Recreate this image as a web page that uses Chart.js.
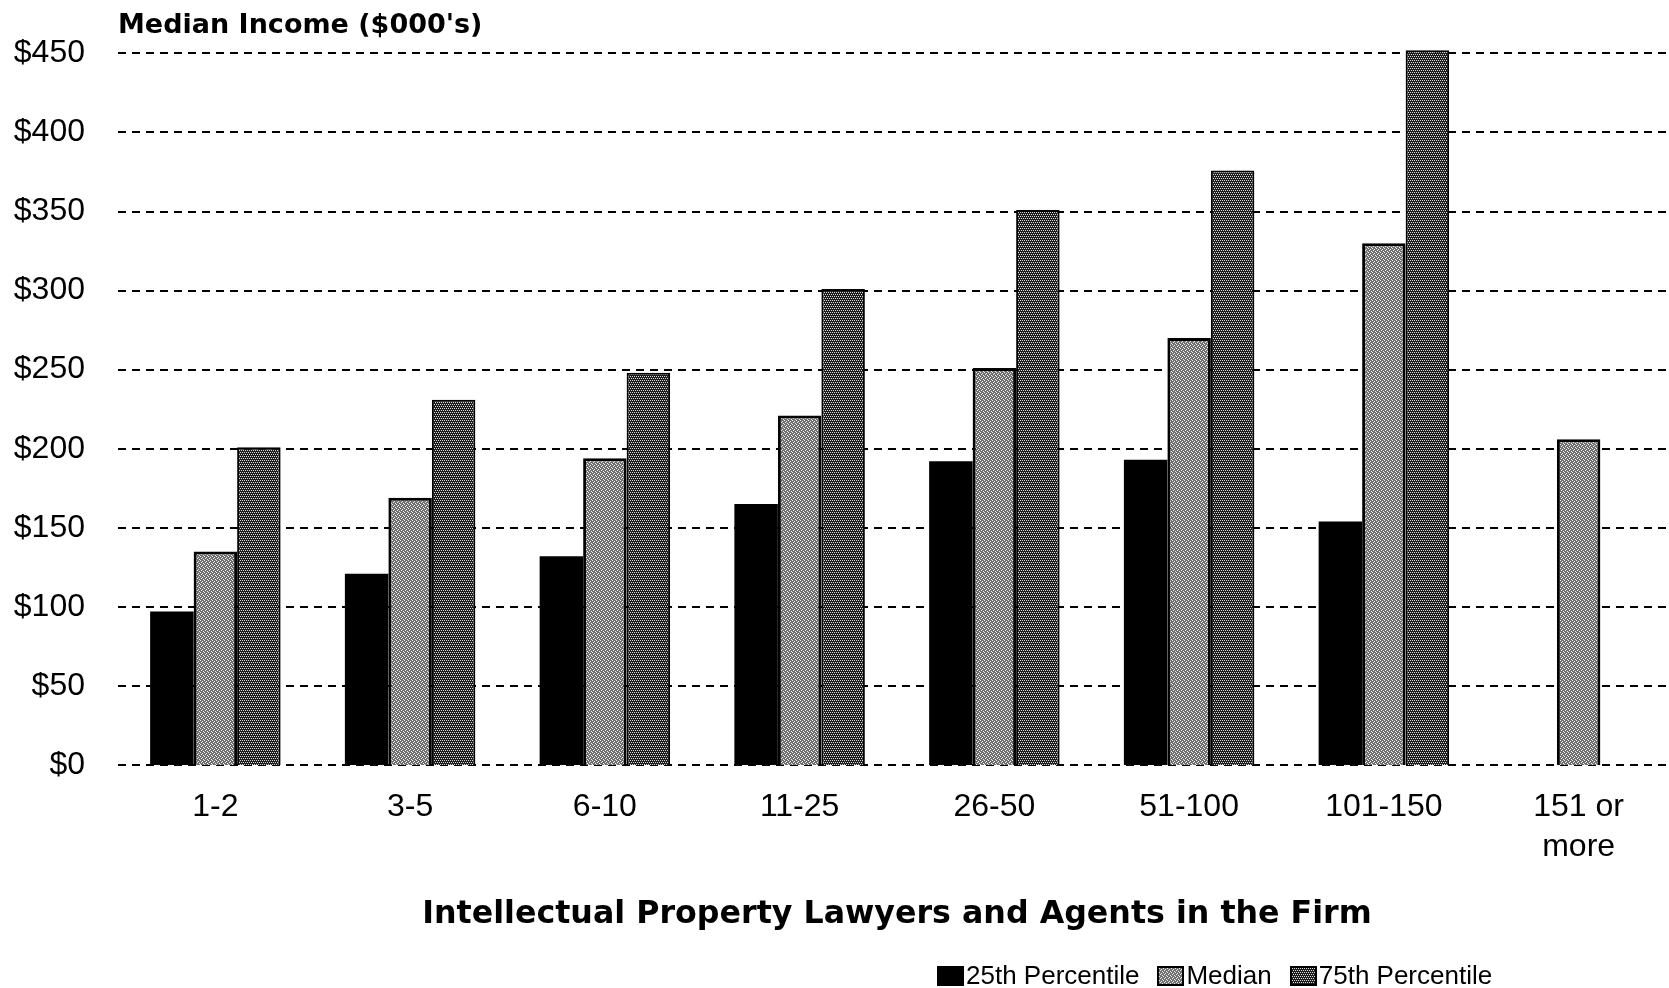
<!DOCTYPE html>
<html>
<head>
<meta charset="utf-8">
<script src="https://cdn.jsdelivr.net/npm/chart.js@4/dist/chart.umd.min.js"></script>
<style>
  html, body { margin: 0; padding: 0; background: #fff; overflow: hidden; }
  #wrap { position: relative; width: 1680px; height: 988px; }
  #legend {
    position: absolute; left: 937px; top: 960px;
    display: flex; align-items: center;
    font-family: "Liberation Sans", Arial, sans-serif; font-size: 26px; color: #000;
  }
  #legend .item { display: flex; align-items: center; margin-right: 18px; }
  #legend .sw { width: 27px; height: 20px; margin-right: 2px; box-sizing: border-box; }
</style>
</head>
<body>
<div id="wrap">
  <canvas id="chart" width="1680" height="988"></canvas>
  <div id="legend"></div>
</div>
<script>
// ---- datos ----
const categories = ["1-2", "3-5", "6-10", "11-25", "26-50", "51-100", "101-150", ["151 or", "more"]];
const seriesNames = ["25th Percentile", "Median", "75th Percentile"];
const p25Values = [97, 121, 132, 165, 192, 193, 154, null];
const medianValues = [135, 169, 194, 221, 251, 270, 330, 206];
const p75Values = [201, 231, 248, 301, 351, 376, 452, null];
const yMin = 0, yMax = 450, yStep = 50;

// ---- texturas (tramas) ----
function makeTile(bg, fg, pts) {
    const c = document.createElement("canvas");
    c.width = 4; c.height = 4;
    const g = c.getContext("2d");
    g.fillStyle = bg; g.fillRect(0, 0, 4, 4);
    g.fillStyle = fg;
    pts.forEach(([x, y]) => g.fillRect(x, y, 1, 1));
    return c;
}
const ctx = document.getElementById("chart").getContext("2d");
const medianTile = makeTile("#707070", "#eeeeee", [[0, 0], [2, 1], [1, 2], [3, 3]]);
const p75Tile = makeTile("#1e1e1e", "#d8d8d8", [[0, 0], [2, 0], [1, 2], [3, 2]]);
const fills = ["#000000", ctx.createPattern(medianTile, "repeat"), ctx.createPattern(p75Tile, "repeat")];
const swatchBg = ["#000000", `url(${medianTile.toDataURL()})`, `url(${p75Tile.toDataURL()})`];
const borders = [0, 3, 2];

const seriesValues = [p25Values, medianValues, p75Values];

new Chart(ctx, {
    type: "bar",
    data: {
        labels: categories,
        datasets: seriesValues.map((vals, i) => ({
            label: seriesNames[i],
            data: vals,
            backgroundColor: fills[i],
            borderColor: "#000",
            borderWidth: borders[i],
            borderSkipped: "bottom",
            barPercentage: 1,
            categoryPercentage: 0.67,
            clip: false,
        })),
    },
    options: {
        responsive: false,
        animation: false,
        layout: { padding: { top: 0, right: 4, bottom: 54, left: 0 } },
        plugins: {
            legend: { display: false },
            tooltip: { enabled: false },
            title: {
                display: true,
                text: "Median Income ($000's)",
                align: "start",
                fullSize: false,
                color: "#000",
                font: { family: "DejaVu Sans", weight: "bold", size: 27 },
                padding: { top: 10, bottom: 11 },
            },
        },
        scales: {
            x: {
                grid: { display: false },
                border: { display: false },
                ticks: {
                    color: "#000",
                    padding: 14,
                    maxRotation: 0,
                    font: { family: "Liberation Sans", size: 32, lineHeight: 1.25 },
                },
                title: {
                    display: true,
                    text: "Intellectual Property Lawyers and Agents in the Firm",
                    color: "#000",
                    font: { family: "DejaVu Sans", weight: "bold", size: 31.7 },
                    padding: { top: 15, bottom: 0 },
                },
            },
            y: {
                min: yMin,
                max: yMax,
                afterFit: (scale) => { scale.width = 118; },
                border: { display: false },
                grid: { display: false, drawTicks: false },
                ticks: {
                    stepSize: yStep,
                    color: "#000",
                    padding: 33,
                    font: { family: "Liberation Sans", size: 32 },
                    callback: (v) => "$" + v,
                },
            },
        },
    },
    plugins: [{
        id: "dashedGrid",
        beforeDraw(chart) {
            // líneas de cuadrícula discontinuas
            const y = chart.scales.y;
            const a = chart.chartArea;
            const c = chart.ctx;
            c.save();
            c.strokeStyle = "#000";
            c.lineWidth = 2;
            c.setLineDash([8, 6]);
            y.ticks.forEach((t) => {
                const py = Math.round(y.getPixelForValue(t.value));
                c.beginPath();
                c.moveTo(a.left, py);
                c.lineTo(a.right, py);
                c.stroke();
            });
            c.restore();
        },
    }],
});

// ---- leyenda ----
const legend = document.getElementById("legend");
seriesNames.forEach((name, i) => {
    const item = document.createElement("div");
    item.className = "item";
    const sw = document.createElement("div");
    sw.className = "sw";
    sw.style.background = swatchBg[i];
    sw.style.border = i === 0 ? "none" : "2px solid #000";
    const txt = document.createElement("span");
    txt.textContent = name;
    item.appendChild(sw);
    item.appendChild(txt);
    legend.appendChild(item);
});
</script>
</body>
</html>
